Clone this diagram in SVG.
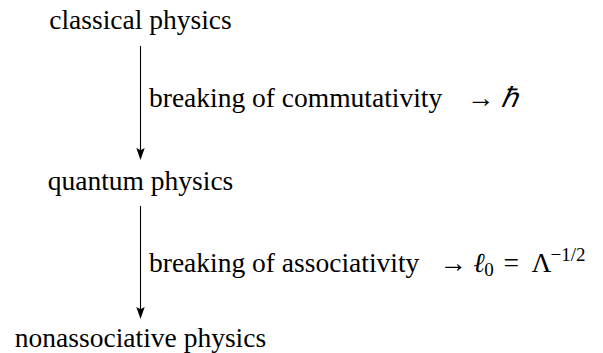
<svg xmlns="http://www.w3.org/2000/svg" width="603" height="353" viewBox="0 0 603 353">
<style>
.t{font-family:"Liberation Serif",serif;font-size:27.5px}
.s{font-family:"Liberation Serif",serif;font-size:19px}
.n{text-anchor:middle}
.it{font-style:italic}
.c{stroke:black;stroke-width:1.1;fill:none}
.h{fill:black}
</style>
<rect width="603" height="353" fill="white"/>
<g id="classical">
<text class="t n" x="140.5" y="29">classical physics</text>
</g>
<g id="quantum">
<text class="t n" x="140.5" y="190">quantum physics</text>
</g>
<g id="nonassociative">
<text class="t n" x="140.5" y="347">nonassociative physics</text>
</g>
<g id="connectors">
<line class="c" x1="140.5" y1="46" x2="140.5" y2="152"/>
<path class="h" d="M140.5,160 L136.3,148 L140.5,150.2 L144.7,148 Z"/>
<line class="c" x1="140.5" y1="206" x2="140.5" y2="311"/>
<path class="h" d="M140.5,319 L136.3,307 L140.5,309.2 L144.7,307 Z"/>
<text class="t" x="149" y="107">breaking of commutativity</text>
<text class="t" x="467" y="107">&#x2192;</text>
<text class="t it" x="501" y="107">&#x210F;</text>
<text class="t" x="149" y="272">breaking of associativity</text>
<text class="t" x="439.4" y="272">&#x2192;</text>
<text class="t it" x="473.3" y="272">&#x2113;</text>
<text class="s" x="484.3" y="276">0</text>
<text class="t" x="503.6" y="272">=</text>
<text class="t" x="531.6" y="272">&#x39B;</text>
<text class="s" x="550.5" y="261">&#x2212;1/2</text>
</g>
</svg>
